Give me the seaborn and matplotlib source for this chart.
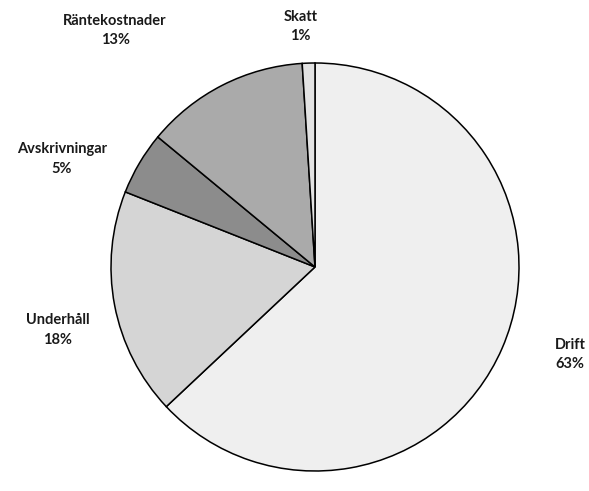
import matplotlib
matplotlib.use("Agg")
import matplotlib.pyplot as plt
import seaborn as sns
import pandas as pd

categories = ["Drift", "Underhåll", "Avskrivningar", "Räntekostnader", "Skatt"]
values = [63, 18, 5, 13, 1]
colors = ["#efefef", "#d5d5d5", "#8c8c8c", "#aaaaaa", "#e2e2e2"]

# label layout (data coordinates, pie radius = 1)
label_pos = [(1.25, -0.43), (-1.26, -0.31), (-1.24, 0.53), (-0.98, 1.16), (-0.07, 1.18)]

df = pd.DataFrame({"category": categories, "value": values, "color": colors})

sns.set_theme(style="white")
plt.rcParams["font.family"] = ["Lato", "DejaVu Sans"]

W, H, DPI = 589, 491, 100
fig = plt.figure(figsize=(W / DPI, H / DPI), dpi=DPI)
fig.patch.set_facecolor("white")
ax = fig.add_axes([0, 0, 1, 1])

ax.pie(df["value"], colors=df["color"], startangle=90, counterclock=False,
       wedgeprops=dict(edgecolor="black", linewidth=1.1))

cx, cy, R = 315, 267, 204
ax.set_aspect("auto")
ax.set_xlim(-cx / R, (W - cx) / R)
ax.set_ylim(-(H - cy) / R, cy / R)
ax.axis("off")

for (name, val), (x, y) in zip(zip(df["category"], df["value"]), label_pos):
    ax.text(x, y, f"{name}\n{val}%", ha="center", va="center", fontsize=10.5,
            fontweight="bold", color="#1a1a1a", linespacing=1.5)

fig.savefig("out.png", dpi=DPI, facecolor="white")
